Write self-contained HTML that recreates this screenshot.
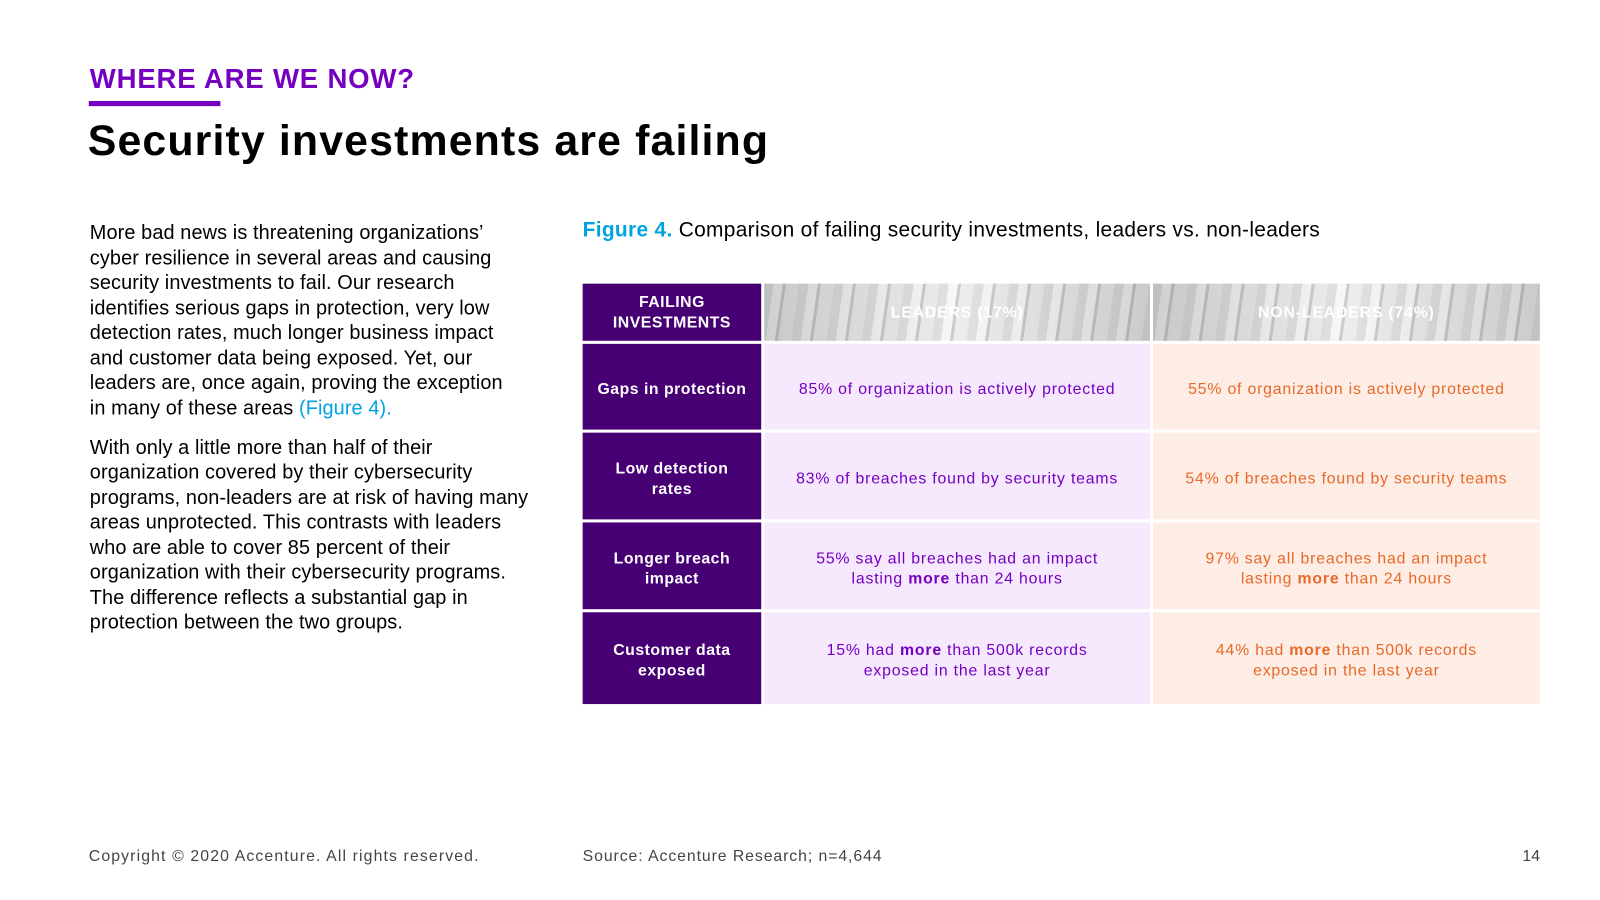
<!DOCTYPE html>
<html><head><meta charset="utf-8"><style>
*{margin:0;padding:0;box-sizing:border-box}
body{width:1600px;height:900px;background:#fff;font-family:"Liberation Sans",sans-serif;overflow:hidden}
#wrap{position:relative;width:1568px;height:882px;transform:scale(1.0204);transform-origin:0 0}
.abs{position:absolute}
.kicker{left:88px;top:62px;font-size:27px;font-weight:bold;color:#7500c0;letter-spacing:0.8px}
.bar{left:87px;top:99px;width:129px;height:5px;background:#7500c0}
.title{left:86px;top:114px;font-size:42px;font-weight:bold;color:#000;letter-spacing:1.1px}
.body{left:88px;top:216px;font-size:19.5px;line-height:24.5px;color:#000;white-space:nowrap;letter-spacing:0.1px}
.body p{margin-bottom:14.5px}
.link{color:#00a3e0}
.fig{left:571px;top:214px;font-size:20.5px;color:#000;letter-spacing:0.3px}
.fig b{color:#00a3e0}
.cell{position:absolute;display:flex;align-items:center;justify-content:center;text-align:center;font-size:15.5px;line-height:20px;letter-spacing:0.8px;padding-top:6px}
.cell span{display:block}
.rh{background:#460073;color:#fff;font-weight:bold;letter-spacing:0.5px}
.ld{background:#f6e9fd;color:#7500c0}
.nl{background:#fdede4;color:#e8692a}
.hd{color:#fff;font-weight:bold;padding-top:2px;background:linear-gradient(90deg,rgba(170,170,170,.5),rgba(250,250,250,.35) 50%,rgba(170,170,170,.45)),repeating-linear-gradient(98deg,#d4d4d4 0 9px,#f6f6f6 9px 18px,#b4b4b4 18px 21px,#e6e6e6 21px 34px)}
.foot{top:831px;font-size:15.5px;color:#444}
</style></head><body>
<div id="wrap">
<div class="abs kicker">WHERE ARE WE NOW?</div>
<div class="abs bar"></div>
<div class="abs title">Security investments are failing</div>
<div class="abs body">
<p>More bad news is threatening organizations’<br>cyber resilience in several areas and causing<br>security investments to fail. Our research<br>identifies serious gaps in protection, very low<br>detection rates, much longer business impact<br>and customer data being exposed. Yet, our<br>leaders are, once again, proving the exception<br>in many of these areas <span class="link">(Figure 4).</span></p>
<p>With only a little more than half of their<br>organization covered by their cybersecurity<br>programs, non-leaders are at risk of having many<br>areas unprotected. This contrasts with leaders<br>who are able to cover 85 percent of their<br>organization with their cybersecurity programs.<br>The difference reflects a substantial gap in<br>protection between the two groups.</p>
</div>
<div class="abs fig"><b>Figure 4.</b> Comparison of failing security investments, leaders vs. non-leaders</div>

<div>
<div class="cell rh" style="left:571px;top:278px;width:175px;height:56px;padding-top:2px"><span>FAILING<br>INVESTMENTS</span></div>
<div class="cell hd" style="left:749px;top:278px;width:378px;height:56px"><span>LEADERS (17%)</span></div>
<div class="cell hd" style="left:1130px;top:278px;width:379px;height:56px"><span>NON-LEADERS (74%)</span></div>

<div class="cell rh" style="left:571px;top:337px;width:175px;height:84px"><span>Gaps in protection</span></div>
<div class="cell ld" style="left:749px;top:337px;width:378px;height:84px"><span>85% of organization is actively protected</span></div>
<div class="cell nl" style="left:1130px;top:337px;width:379px;height:84px"><span>55% of organization is actively protected</span></div>

<div class="cell rh" style="left:571px;top:424px;width:175px;height:85px"><span>Low detection<br>rates</span></div>
<div class="cell ld" style="left:749px;top:424px;width:378px;height:85px"><span>83% of breaches found by security teams</span></div>
<div class="cell nl" style="left:1130px;top:424px;width:379px;height:85px"><span>54% of breaches found by security teams</span></div>

<div class="cell rh" style="left:571px;top:512px;width:175px;height:85px"><span>Longer breach<br>impact</span></div>
<div class="cell ld" style="left:749px;top:512px;width:378px;height:85px"><span>55% say all breaches had an impact<br>lasting <b>more</b> than 24 hours</span></div>
<div class="cell nl" style="left:1130px;top:512px;width:379px;height:85px"><span>97% say all breaches had an impact<br>lasting <b>more</b> than 24 hours</span></div>

<div class="cell rh" style="left:571px;top:600px;width:175px;height:90px"><span>Customer data<br>exposed</span></div>
<div class="cell ld" style="left:749px;top:600px;width:378px;height:90px"><span>15% had <b>more</b> than 500k records<br>exposed in the last year</span></div>
<div class="cell nl" style="left:1130px;top:600px;width:379px;height:90px"><span>44% had <b>more</b> than 500k records<br>exposed in the last year</span></div>
</div>

<div class="abs foot" style="left:87px;letter-spacing:1.1px">Copyright © 2020 Accenture. All rights reserved.</div>
<div class="abs foot" style="left:571px;letter-spacing:0.9px">Source: Accenture Research; n=4,644</div>
<div class="abs foot" style="left:1492px">14</div>
</div>
</body></html>
